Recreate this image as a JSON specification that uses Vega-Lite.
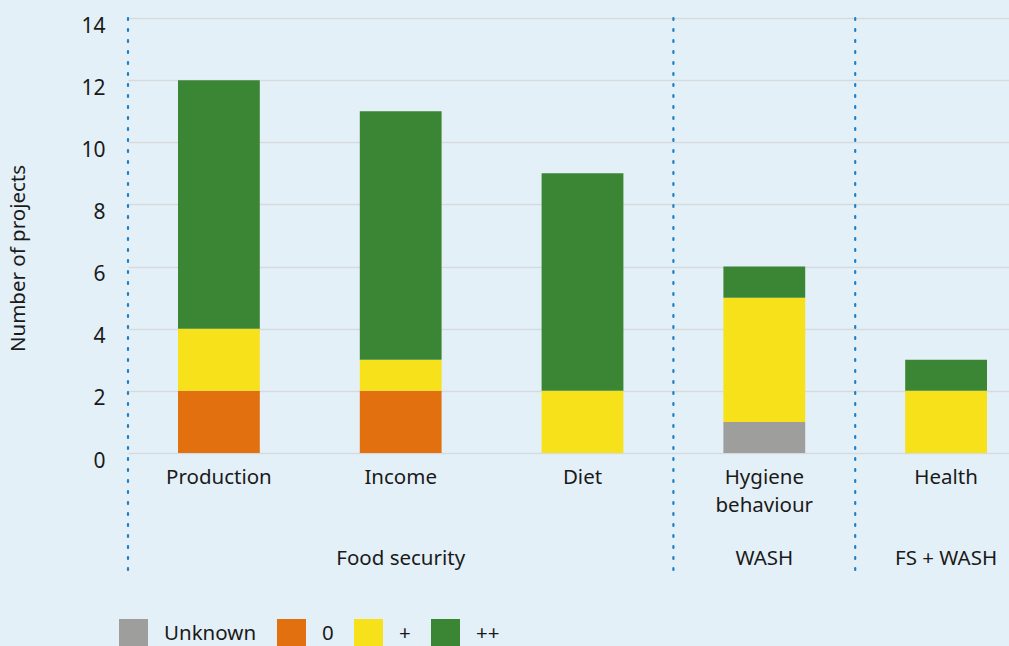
{
  "$schema": "https://vega.github.io/schema/vega-lite/v6.json",
  "autosize": {"type": "none"},
  "width": 887,
  "height": 435,
  "padding": {"left": 122, "top": 18, "right": 0, "bottom": 193},
  "background": "#e4f0f8",
  "config": {
    "view": {"stroke": null},
    "font": "Noto Sans",
    "axis": {"labelFont": "Noto Sans", "titleFont": "Noto Sans", "labelColor": "#1a1a1a", "titleColor": "#1a1a1a"},
    "legend": {"labelFont": "Noto Sans", "labelColor": "#1a1a1a"}
  },
  "datasets": {
    "bars": [
      {"category": "Production", "rating": "0", "count": 2},
      {"category": "Production", "rating": "+", "count": 2},
      {"category": "Production", "rating": "++", "count": 8},
      {"category": "Income", "rating": "0", "count": 2},
      {"category": "Income", "rating": "+", "count": 1},
      {"category": "Income", "rating": "++", "count": 8},
      {"category": "Diet", "rating": "+", "count": 2},
      {"category": "Diet", "rating": "++", "count": 7},
      {"category": "Hygiene behaviour", "rating": "Unknown", "count": 1},
      {"category": "Hygiene behaviour", "rating": "+", "count": 4},
      {"category": "Hygiene behaviour", "rating": "++", "count": 1},
      {"category": "Health", "rating": "+", "count": 2},
      {"category": "Health", "rating": "++", "count": 1}
    ],
    "separators": [
      {"category": "Production", "top": 14, "bottom": -3.85},
      {"category": "Hygiene behaviour", "top": 14, "bottom": -3.85},
      {"category": "Health", "top": 14, "bottom": -3.85}
    ],
    "groups": [
      {"category": "Income", "group": "Food security", "pos": -3.4},
      {"category": "Hygiene behaviour", "group": "WASH", "pos": -3.4},
      {"category": "Health", "group": "FS + WASH", "pos": -3.4}
    ]
  },
  "layer": [
    {
      "data": {"name": "bars"},
      "transform": [
        {"calculate": "indexof(['Unknown','0','+','++'], datum.rating)", "as": "ord"}
      ],
      "mark": {"type": "bar", "width": {"band": 0.45}},
      "encoding": {
        "x": {
          "field": "category", "type": "nominal",
          "scale": {"domain": ["Production", "Income", "Diet", "Hygiene behaviour", "Health"], "range": [6, 915], "paddingInner": 0, "paddingOuter": 0},
          "axis": {
            "title": null, "ticks": false, "domain": false, "labelAngle": 0,
            "labelFontSize": 20.5, "labelPadding": 14, "labelLineHeight": 28,
            "labelBaseline": "top",
            "labelExpr": "datum.label == 'Hygiene behaviour' ? ['Hygiene', 'behaviour'] : datum.label"
          }
        },
        "y": {
          "field": "count", "type": "quantitative", "aggregate": "sum", "stack": "zero",
          "scale": {"domain": [0, 14]},
          "axis": {
            "title": "Number of projects", "titleFontSize": 20.5, "titleFontWeight": "normal",
            "titlePadding": 52, "titleY": 240,
            "values": [0, 2, 4, 6, 8, 10, 12, 14],
            "ticks": false, "domain": false, "labelFontSize": 21, "labelPadding": 17,
            "labelOffset": 8,
            "gridColor": "#d6dadd", "gridWidth": 1.5
          }
        },
        "color": {
          "field": "rating", "type": "nominal",
          "scale": {"domain": ["Unknown", "0", "+", "++"], "range": ["#9e9e9c", "#e2700f", "#f6e11a", "#3b8635"]},
          "legend": {
            "title": null, "orient": "none", "direction": "horizontal",
            "legendX": -3, "legendY": 601,
            "symbolType": "square", "symbolSize": 841, "symbolStrokeWidth": 0,
            "labelFontSize": 20.5, "labelOffset": 16, "columnPadding": 20, "padding": 0
          }
        },
        "order": {"field": "ord", "type": "quantitative"}
      }
    },
    {
      "data": {"name": "separators"},
      "mark": {"type": "rule", "color": "#1f7fc6", "strokeWidth": 2.2, "strokeDash": [2, 9], "strokeCap": "round"},
      "encoding": {
        "x": {"field": "category", "type": "nominal", "bandPosition": 0},
        "y": {"field": "top", "type": "quantitative"},
        "y2": {"field": "bottom"}
      }
    },
    {
      "data": {"name": "groups"},
      "mark": {"type": "text", "font": "Noto Sans", "fontSize": 20.5, "color": "#1a1a1a", "baseline": "middle", "align": "center"},
      "encoding": {
        "x": {"field": "category", "type": "nominal"},
        "y": {"field": "pos", "type": "quantitative"},
        "text": {"field": "group"}
      }
    }
  ]
}
